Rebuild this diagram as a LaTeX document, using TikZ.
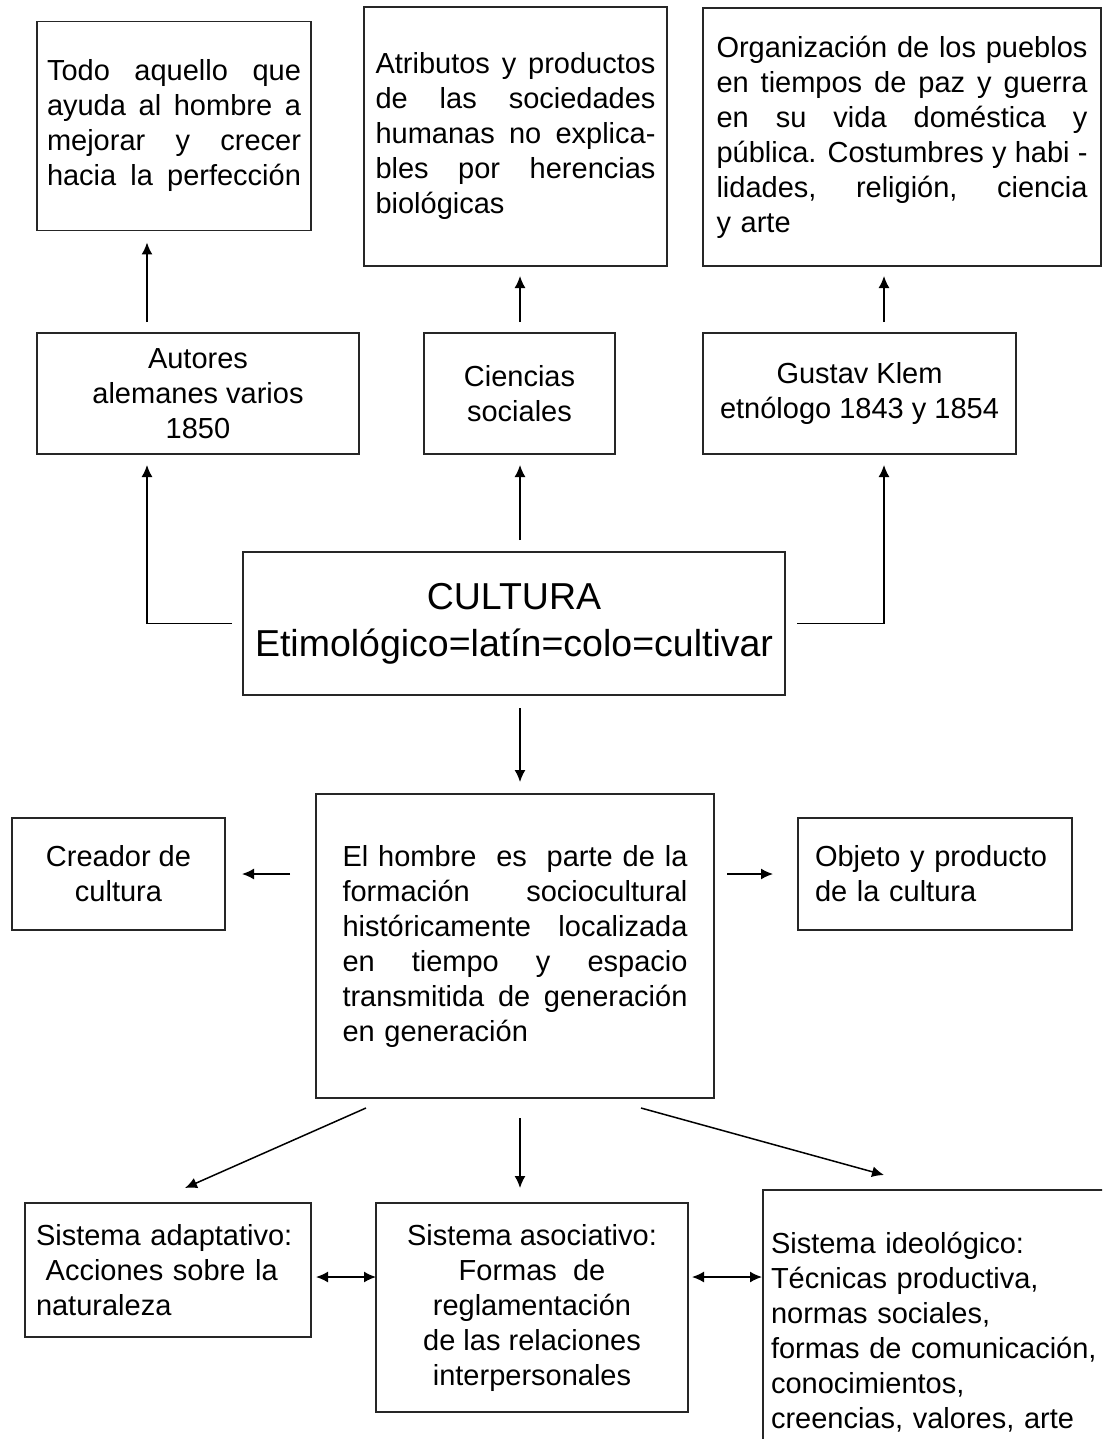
\documentclass[tikz,border=0pt]{standalone}
\usepackage{fontspec}
\setmainfont{Liberation Sans}
\usetikzlibrary{arrows.meta}

\newcommand{\llena}[1]{\makebox[\hsize][s]{\spaceskip=0pt\xspaceskip=0pt\relax #1}}

\begin{document}
\begin{tikzpicture}[x=1pt,y=-1pt,
	>={Latex[length=12pt,width=11pt]},
	caja/.style={draw=black!85,line width=1.6pt,rectangle,inner sep=0pt,outer sep=0pt,
		font=\fontsize{29}{35}\selectfont},
	flecha/.style={->,line width=1.5pt}]

\useasboundingbox (0,0) rectangle (1102,1439);
\clip (0,0) rectangle (1102,1439);

\coordinate (izq) at (147,0);
\coordinate (eje) at (520,0);
\coordinate (der) at (884,0);
\coordinate (fila) at (0,1277);

\node[caja,minimum width=274,minimum height=209,text width=254,align=left] (todo) at (174,126)
	{\llena{Todo aquello que}\\ \llena{ayuda al hombre a}\\ \llena{mejorar y crecer}\\ \llena{hacia la perfección}};
\node[caja,minimum width=303,minimum height=259,text width=280,align=left] (atributos) at (515.5,136.5)
	{\llena{Atributos y productos}\\ \llena{de las sociedades}\\ \llena{humanas no explica-}\\ \llena{bles por herencias}\\ biológicas};
\node[caja,minimum width=398,minimum height=258,text width=371,align=left] (organizacion) at (902,137)
	{\llena{Organización de los pueblos}\\ \llena{en tiempos de paz y guerra}\\ \llena{en su vida doméstica y}\\
	 \llena{pública. Costumbres y habi -}\\ \llena{lidades, religión, ciencia}\\ y arte};

\node[caja,minimum width=322,minimum height=121,align=center] (autores) at (198,393.5)
	{Autores\\ alemanes varios\\ 1850};
\node[caja,minimum width=191,minimum height=121,align=center] (ciencias) at (519.5,393.5)
	{Ciencias\\ sociales};
\node[caja,minimum width=313,minimum height=121,align=center] (gustav) at (859.5,393.5)
	{Gustav Klem\\ etnólogo 1843 y 1854};

\node[caja,minimum width=542,minimum height=143,align=center,font=\fontsize{37.5}{47}\selectfont] (cultura) at (514,623.5)
	{CULTURA\\ Etimológico=latín=colo=cultivar};

\node[caja,minimum width=398,minimum height=304,text width=345,align=left] (centro) at (515,946)
	{\llena{El hombre\ \ es\ \ parte de la}\\ \llena{formación sociocultural}\\ \llena{históricamente localizada}\\
	 \llena{en tiempo y espacio}\\ \llena{transmitida de generación}\\ en generación};
\node[caja,minimum width=213,minimum height=112,align=center] (creador) at (118.5,874)
	{Creador de\\ cultura};
\node[caja,minimum width=274,minimum height=112,text width=240,align=left] (objeto) at (935,874)
	{Objeto y producto\\ de la cultura};

\node[caja,minimum width=286,minimum height=134,text width=264,align=left] (adaptativo) at (168,1270)
	{Sistema adaptativo:\\ \ Acciones sobre la\\ naturaleza};
\node[caja,minimum width=312,minimum height=209,align=center] (asociativo) at (532,1307.5)
	{Sistema asociativo:\\ Formas\ \ de\\ reglamentación\\ de las relaciones\\ interpersonales};
\node[caja,minimum width=352,minimum height=284,text width=336,align=left] (ideologico) at (939,1332)
	{Sistema ideológico:\\ Técnicas productiva,\\ normas sociales,\\ formas de comunicación,\\ conocimientos,\\ creencias, valores, arte};

\draw[flecha,shorten <=11pt,shorten >=12pt] (autores.north -| izq) -- (todo.south -| izq);
\draw[flecha,shorten <=11pt,shorten >=10pt] (ciencias.north -| eje) -- (atributos.south -| eje);
\draw[flecha,shorten <=11pt,shorten >=10pt] (gustav.north -| der) -- (organizacion.south -| der);

\draw[flecha,shorten <=11pt,shorten >=11pt] (cultura.west) -| (autores.south -| izq);
\draw[flecha,shorten <=12pt,shorten >=11pt] (cultura.north -| eje) -- (ciencias.south -| eje);
\draw[flecha,shorten <=12pt,shorten >=11pt] (cultura.east) -| (gustav.south -| der);
\draw[flecha,shorten <=13pt,shorten >=12pt] (cultura.south -| eje) -- (centro.north -| eje);

\draw[flecha,shorten <=26pt,shorten >=17pt] (centro.west |- creador.east) -- (creador.east);
\draw[flecha,shorten <=13pt,shorten >=25pt] (centro.east |- objeto.west) -- (objeto.west);

\draw[flecha] ([xshift=50pt,yshift=-10pt]centro.south west) -- ([xshift=17pt,yshift=15pt]adaptativo.north);
\draw[flecha,shorten <=20pt,shorten >=15pt] (centro.south -| eje) -- (asociativo.north -| eje);
\draw[flecha] ([xshift=-73pt,yshift=-10pt]centro.south east) -- ([xshift=121pt,yshift=15pt]ideologico.north west);

\draw[<->,line width=1.5pt,shorten <=5pt] (adaptativo.east |- fila) -- (asociativo.west |- fila);
\draw[<->,line width=1.5pt,shorten <=4pt,shorten >=1pt] (asociativo.east |- fila) -- (ideologico.west |- fila);

\end{tikzpicture}
\end{document}
